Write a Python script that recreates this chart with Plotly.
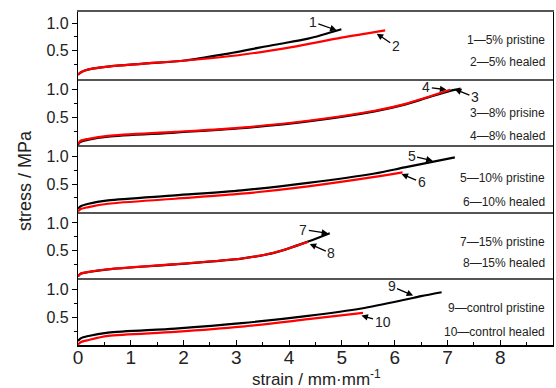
import plotly.graph_objects as go
from plotly.subplots import make_subplots

# ---- data (strain, stress) ----
p5_x = [0, 0.05, 0.13, 0.3, 0.57, 1.2, 2.03, 2.78, 3.73, 4.36, 4.99]
p5_y = [0.07, 0.11, 0.145, 0.185, 0.217, 0.266, 0.326, 0.44, 0.61, 0.72, 0.89]
h5_x = [0, 0.05, 0.13, 0.3, 0.57, 1.2, 2.03, 3.1, 4.05, 4.99, 5.82]
h5_y = [0.07, 0.11, 0.145, 0.185, 0.217, 0.266, 0.326, 0.43, 0.568, 0.737, 0.87]

p8_x = [0, 0.05, 0.2, 0.57, 1.84, 3.1, 4.36, 5.62, 6.19, 6.6, 7.05, 7.25]
p8_y = [0.01, 0.06, 0.10, 0.155, 0.228, 0.308, 0.43, 0.61, 0.73, 0.85, 0.98, 1.02]
h8_x = [0, 0.05, 0.2, 0.57, 1.84, 3.1, 4.36, 5.62, 6.19, 6.6, 7.05]
h8_y = [0.02, 0.08, 0.115, 0.168, 0.24, 0.318, 0.44, 0.62, 0.74, 0.86, 1.0]

p10_x = [0, 0.05, 0.2, 0.57, 1.84, 3.1, 4.36, 5.62, 6.19, 7.14]
p10_y = [0.054, 0.10, 0.145, 0.205, 0.296, 0.386, 0.52, 0.69, 0.80, 0.98]
h10_x = [0, 0.05, 0.2, 0.57, 1.84, 3.1, 4.36, 5.62, 6.15]
h10_y = [0.0, 0.05, 0.085, 0.145, 0.235, 0.326, 0.458, 0.628, 0.71]

p15_x = [0, 0.05, 0.2, 0.57, 1.84, 3.1, 3.73, 4.36, 4.77]
p15_y = [0.04, 0.085, 0.115, 0.163, 0.254, 0.356, 0.465, 0.664, 0.815]
h15_x = [0, 0.05, 0.2, 0.57, 1.84, 3.1, 3.73, 4.36]
h15_y = [0.04, 0.085, 0.117, 0.165, 0.256, 0.358, 0.467, 0.66]

pc_x = [0, 0.05, 0.2, 0.57, 1.84, 3.1, 4.36, 5.37, 6.19, 6.5, 6.89]
pc_y = [0.07, 0.12, 0.163, 0.223, 0.296, 0.393, 0.525, 0.658, 0.815, 0.88, 0.95]
hc_x = [0, 0.05, 0.2, 0.57, 1.84, 3.1, 4.36, 5.4]
hc_y = [0.01, 0.05, 0.09, 0.163, 0.235, 0.33, 0.465, 0.58]

panels = [
    (p5_x, p5_y, h5_x, h5_y, "1—5% pristine", "2—5% healed"),
    (p8_x, p8_y, h8_x, h8_y, "3—8% prisine", "4—8% healed"),
    (p10_x, p10_y, h10_x, h10_y, "5—10% pristine", "6—10% healed"),
    (p15_x, p15_y, h15_x, h15_y, "7—15% pristine", "8—15% healed"),
    (pc_x, pc_y, hc_x, hc_y, "9—control pristine", "10—control healed"),
]

# curve labels: (row, text, tip_x, tip_y, tail_x, tail_y)
curve_labels = [
    (1, "1", 4.90, 0.87, 4.45, 1.02),
    (1, "2", 5.66, 0.81, 6.02, 0.58),
    (2, "4", 6.98, 1.00, 6.60, 1.045),
    (2, "3", 7.14, 1.01, 7.52, 0.86),
    (3, "5", 6.72, 0.92, 6.32, 1.01),
    (3, "6", 6.13, 0.68, 6.51, 0.53),
    (4, "7", 4.74, 0.81, 4.27, 0.88),
    (4, "8", 4.39, 0.62, 4.80, 0.45),
    (5, "9", 6.35, 0.89, 5.94, 1.06),
    (5, "10", 5.37, 0.53, 5.77, 0.42),
]

# legend text y positions (paper)
legend_y = [(0.916, 0.85), (0.697, 0.628), (0.502, 0.429), (0.309, 0.246), (0.111, 0.039)]

FONT = "Liberation Sans"

fig = make_subplots(rows=5, cols=1, shared_xaxes=True, vertical_spacing=0)

for i, (bx, by, rx, ry, t1, t2) in enumerate(panels):
    r = i + 1
    fig.add_trace(go.Scatter(x=bx, y=by, mode="lines",
                             line=dict(color="black", width=2.2, shape="spline", smoothing=0.8),
                             showlegend=False), row=r, col=1)
    fig.add_trace(go.Scatter(x=rx, y=ry, mode="lines",
                             line=dict(color="#ff0000", width=2.2, shape="spline", smoothing=0.8),
                             showlegend=False), row=r, col=1)
    for txt, yy in zip((t1, t2), legend_y[i]):
        fig.add_annotation(xref="paper", yref="paper", x=0.987, y=yy, text=txt,
                           showarrow=False, xanchor="right", yanchor="middle",
                           font=dict(family=FONT, size=12, color="#222"))
    fig.update_yaxes(row=r, col=1, range=[0, 1.2], tickmode="array",
                     tickvals=[0.5, 1.0], ticktext=["0.5", "1.0"],
                     ticks="outside", ticklen=5, tickwidth=1, tickcolor="black",
                     minor=dict(tickmode="array", tickvals=[0.25, 0.75], ticks="outside",
                                ticklen=3, tickcolor="black"),
                     showline=True, linecolor="black", linewidth=1.2, mirror=True,
                     showgrid=False, zeroline=False,
                     tickfont=dict(family=FONT, size=16, color="#222"))
    fig.update_xaxes(row=r, col=1, range=[0, 9], showgrid=False, zeroline=False,
                     showline=True, linecolor="#555", linewidth=1.5,
                     mirror=(r == 1), ticks="", showticklabels=False)

for (r, txt, tx, ty, ax, ay) in curve_labels:
    xr = "x" if r == 1 else f"x{r}"
    yr = "y" if r == 1 else f"y{r}"
    fig.add_annotation(xref=xr, yref=yr, axref=xr, ayref=yr, x=tx, y=ty, ax=ax, ay=ay,
                       text=txt, showarrow=True, arrowhead=2, arrowsize=1, arrowwidth=1.3,
                       arrowcolor="black", standoff=0,
                       font=dict(family=FONT, size=14, color="#222"))

fig.update_xaxes(row=5, col=1, showticklabels=True, dtick=1, tick0=0,
                 ticks="inside", ticklen=5, tickcolor="black", linecolor="black",
                 ticklabelstandoff=-6,
                 minor=dict(dtick=0.5, ticks="inside", ticklen=3, tickcolor="black"),
                 tickfont=dict(family=FONT, size=19, color="#222"))

fig.add_annotation(xref="paper", yref="paper", x=-0.112, y=0.495, text="stress / MPa",
                   textangle=-90, showarrow=False, xanchor="center", yanchor="middle",
                   font=dict(family=FONT, size=18, color="#222"))
fig.add_annotation(xref="paper", yref="paper", x=0.503, y=-0.099,
                   text="strain / mm·mm<sup>-1</sup>", showarrow=False,
                   xanchor="center", yanchor="middle",
                   font=dict(family=FONT, size=17, color="#222"))

fig.update_layout(width=556, height=388, margin=dict(l=78, r=3, t=12, b=43),
                  paper_bgcolor="white", plot_bgcolor="white")

fig.write_html("out.html")
